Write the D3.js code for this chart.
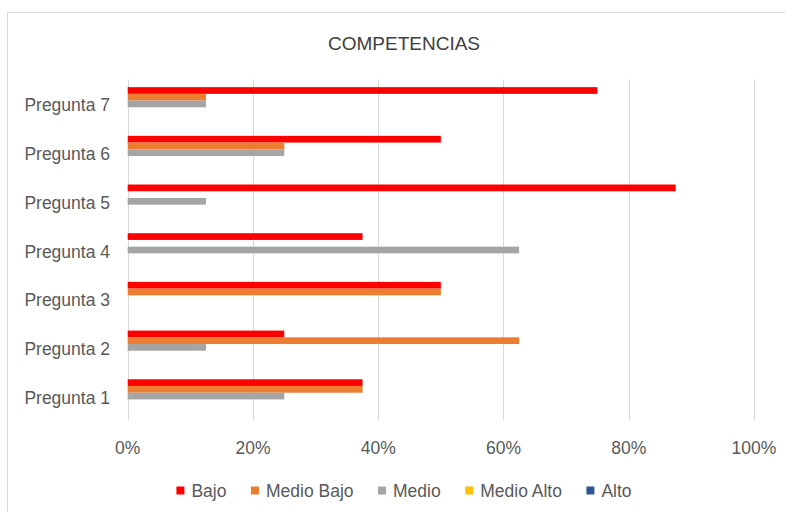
<!DOCTYPE html>
<html>
<head>
<meta charset="utf-8">
<script src="https://cdn.jsdelivr.net/npm/d3@7"></script>
<style>
  body { margin: 0; background: #fff; }
  svg { display: block; font-family: "Liberation Sans", Arial, sans-serif; }
</style>
</head>
<body>
<svg id="chart" width="785" height="512"></svg>
<script>
// categories and series
var categories = ["Pregunta 1", "Pregunta 2", "Pregunta 3", "Pregunta 4", "Pregunta 5", "Pregunta 6", "Pregunta 7"]
var series = ["Bajo", "Medio Bajo", "Medio", "Medio Alto", "Alto"]
var colors = ["#ff0000", "#ed7d31", "#a5a5a5", "#ffc000", "#2f5597"]

var bajo       = [0.375, 0.25,  0.5, 0.375, 0.875, 0.5,  0.75]
var medioBajo  = [0.375, 0.625, 0.5, 0,     0,     0.25, 0.125]
var medio      = [0.25,  0.125, 0,   0.625, 0.125, 0.25, 0.125]
var medioAlto  = [0, 0, 0, 0, 0, 0, 0]
var alto       = [0, 0, 0, 0, 0, 0, 0]
var values = [bajo, medioBajo, medio, medioAlto, alto]

var xTicks = [0, 0.2, 0.4, 0.6, 0.8, 1]

var textColor = "#595959"
var gridColor = "#d9d9d9"

var svg = d3.select("#chart")

// chart border
svg.append("rect")
    .attr("x", 7.5)
    .attr("y", 12.5)
    .attr("width", 800)
    .attr("height", 520)
    .attr("fill", "#fff")
    .attr("stroke", gridColor)

svg.append("text")
    .attr("x", 404)
    .attr("y", 50)
    .attr("text-anchor", "middle")
    .attr("fill", "#404040")
    .style("font-size", "19px")
    .text("COMPETENCIAS")

var x = d3.scaleLinear().domain([0, 1]).range([127.7, 754])

var y = d3.scaleBand()
    .domain(categories.slice().reverse())
    .range([79.6, 420.4])

var groupH = y.bandwidth() * 0.69
var ySeries = d3.scaleBand()
    .domain(series)
    .range([(y.bandwidth() - groupH) / 2, (y.bandwidth() + groupH) / 2])

// gridlines
svg.append("g")
    .selectAll("line")
    .data(xTicks)
    .join("line")
    .attr("x1", d => Math.round(x(d)) + 0.5)
    .attr("x2", d => Math.round(x(d)) + 0.5)
    .attr("y1", y.range()[0])
    .attr("y2", y.range()[1])
    .attr("stroke", gridColor)

// x tick labels
svg.append("g")
    .selectAll("text")
    .data(xTicks)
    .join("text")
    .attr("x", d => x(d))
    .attr("y", 454)
    .attr("text-anchor", "middle")
    .attr("fill", textColor)
    .style("font-size", "17.5px")
    .text(d3.format(".0%"))

// category labels
svg.append("g")
    .selectAll("text")
    .data(categories)
    .join("text")
    .attr("x", 110)
    .attr("y", d => y(d) + y.bandwidth() / 2 + 7.5)
    .attr("text-anchor", "end")
    .attr("fill", textColor)
    .style("font-size", "17.5px")
    .text(d => d)

// bars
var rows = []
series.forEach(function(s, i) {
    categories.forEach(function(c, j) {
        rows.push({ series: s, cat: c, value: values[i][j], color: colors[i] })
    })
})

svg.append("g")
    .selectAll("rect")
    .data(rows.filter(d => d.value > 0))
    .join("rect")
    .attr("x", x(0))
    .attr("y", d => y(d.cat) + ySeries(d.series))
    .attr("width", d => x(d.value) - x(0))
    .attr("height", ySeries.bandwidth())
    .attr("fill", d => d.color)

// legend
var legend = svg.append("g")
var items = legend.selectAll("g")
    .data(series)
    .join("g")

items.append("rect")
    .attr("y", 486.5)
    .attr("width", 8)
    .attr("height", 8)
    .attr("fill", (d, i) => colors[i])

items.append("text")
    .attr("x", 15)
    .attr("y", 496.5)
    .attr("fill", textColor)
    .style("font-size", "17.5px")
    .text(d => d)

var gap = 24.5
var widths = []
items.each(function() { widths.push(this.getBBox().width) })
var total = d3.sum(widths) + gap * (widths.length - 1)
var pos = 404 - total / 2
items.each(function(d, i) {
    d3.select(this).attr("transform", "translate(" + pos + ",0)")
    pos += widths[i] + gap
})
</script>
</body>
</html>
